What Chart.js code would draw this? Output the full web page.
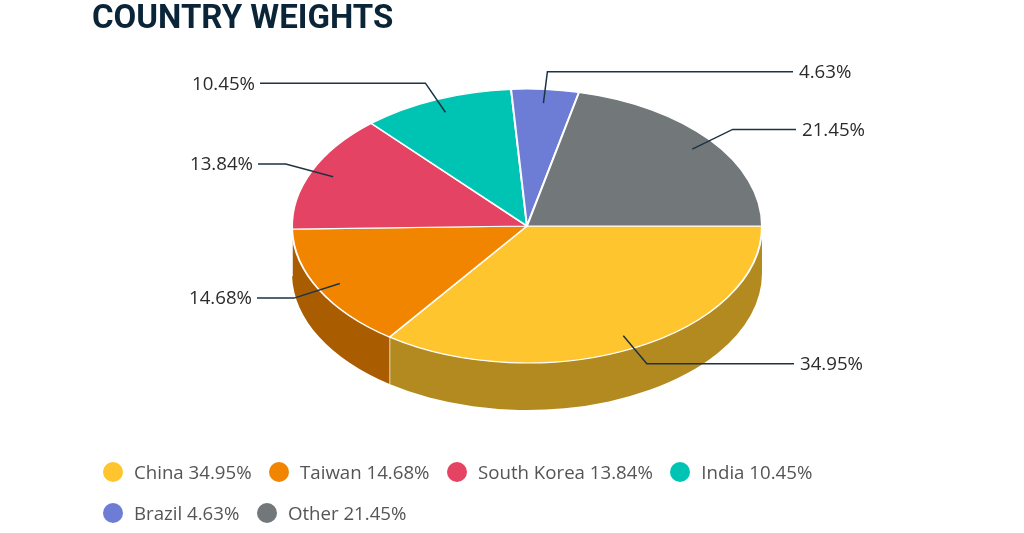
<!DOCTYPE html>
<html>
<head>
<meta charset="utf-8">
<title>Country Weights</title>
<script src="https://cdn.jsdelivr.net/npm/chart.js@4/dist/chart.umd.min.js"></script>
<style>
    html, body { margin: 0; padding: 0; background: #fff; }
    #wrap { width: 1024px; height: 533px; position: relative; overflow: hidden; }
    #legend {
        position: absolute; left: 103px; top: 451px; width: 780px;
        display: flex; flex-wrap: wrap;
        font: 18.67px/41px "Open Sans", sans-serif; color: #555;
    }
    #legend .item { display: flex; align-items: center; margin-right: 17.5px; white-space: nowrap; }
    #legend .dot { width: 20px; height: 20px; border-radius: 50%; margin-right: 11px; }
</style>
</head>
<body>
<div id="wrap">
    <canvas id="weightsChart" width="1024" height="533"></canvas>
    <div id="legend"></div>
</div>
<script>
var countries = ['China', 'Taiwan', 'South Korea', 'India', 'Brazil', 'Other'];
var weights = [34.95, 14.68, 13.84, 10.45, 4.63, 21.45];
var sliceColors = ['#FFC52E', '#F28500', '#E54363', '#00C4B3', '#6D7DD6', '#72777A'];
var wallColors = ['#B38A20', '#A95D00', '#A02F45', '#00897D', '#4C5896', '#505355'];

(function () {
    var pieX = 527, pieY = 226, pieR = 235;
    var squash = 137 / 235;
    var depth = 47;
    // where each leader line stops, next to its label
    var leaderEnds = [794, 257, 258, 260, 793, 796];

    function pct(v) {
        return v.toFixed(2) + '%';
    }

    // fake 3d: walls first, then the flat pie squashed into an ellipse
    var tiltPlugin = {
        id: 'tilt',
        beforeDatasetsDraw: function (chart) {
            var ctx = chart.ctx;
            var arcs = chart.getDatasetMeta(0).data;
            var ry = pieR * squash;

            arcs.forEach(function (arc, i) {
                var a = arc.startAngle;
                var b = Math.min(arc.endAngle, Math.PI);
                if (a >= Math.PI) return;
                ctx.beginPath();
                ctx.ellipse(pieX, pieY, pieR, ry, 0, a, b);
                ctx.ellipse(pieX, pieY + depth, pieR, ry, 0, b, a, true);
                ctx.closePath();
                ctx.fillStyle = wallColors[i];
                ctx.fill();
                if (b < Math.PI) {
                    var ex = pieX + pieR * Math.cos(b);
                    var ey = pieY + ry * Math.sin(b);
                    ctx.beginPath();
                    ctx.moveTo(ex, ey);
                    ctx.lineTo(ex, ey + depth);
                    ctx.strokeStyle = '#fff';
                    ctx.lineWidth = 1.5;
                    ctx.stroke();
                }
            });

            var first = arcs[0];
            ctx.save();
            ctx.translate(pieX, pieY);
            ctx.scale(1, squash);
            ctx.translate(-first.x, -first.y);
        },
        afterDatasetsDraw: function (chart) {
            var ctx = chart.ctx;
            ctx.restore();

            var arcs = chart.getDatasetMeta(0).data;
            var ry = pieR * squash;
            ctx.save();
            ctx.font = '18.67px "Open Sans", sans-serif';
            ctx.textBaseline = 'middle';
            arcs.forEach(function (arc, i) {
                var mid = (arc.startAngle + arc.endAngle) / 2;
                var c = Math.cos(mid), s = Math.sin(mid);
                var right = c > 0;
                var elbowX = pieX + 1.12 * pieR * c;
                var elbowY = pieY + 1.13 * ry * s;
                var endX = leaderEnds[i];

                ctx.beginPath();
                ctx.moveTo(pieX + 0.9 * pieR * c, pieY + 0.9 * ry * s);
                ctx.lineTo(elbowX, elbowY);
                ctx.lineTo(endX, elbowY);
                ctx.strokeStyle = '#1C3344';
                ctx.lineWidth = 1.5;
                ctx.stroke();

                ctx.fillStyle = '#2B2B2B';
                ctx.textAlign = right ? 'left' : 'right';
                ctx.fillText(pct(weights[i]), endX + (right ? 6 : -5), elbowY + 1);
            });
            ctx.restore();
        }
    };

    new Chart(document.getElementById('weightsChart'), {
        type: 'pie',
        plugins: [tiltPlugin],
        data: {
            labels: countries,
            datasets: [{
                data: weights,
                backgroundColor: sliceColors,
                borderColor: '#FFFFFF',
                borderWidth: 2,
                radius: pieR,
                clip: false
            }]
        },
        options: {
            responsive: false,
            animation: false,
            rotation: 90,
            layout: { padding: { left: 92 } },
            plugins: {
                tooltip: { enabled: false },
                legend: { display: false },
                title: {
                    display: true,
                    text: 'COUNTRY WEIGHTS',
                    align: 'start',
                    color: '#0B2538',
                    font: { family: 'Roboto', size: 33, weight: 'bold', lineHeight: 1 },
                    padding: { top: 3, bottom: 0 }
                }
            }
        }
    });

    // legend rows are 41px apart but items only 18px apart, so it lives in the page
    var legend = document.getElementById('legend');
    countries.forEach(function (name, i) {
        var item = document.createElement('div');
        item.className = 'item';
        var dot = document.createElement('span');
        dot.className = 'dot';
        dot.style.background = sliceColors[i];
        item.appendChild(dot);
        item.appendChild(document.createTextNode(name + ' ' + pct(weights[i])));
        legend.appendChild(item);
    });
})();
</script>
</body>
</html>
